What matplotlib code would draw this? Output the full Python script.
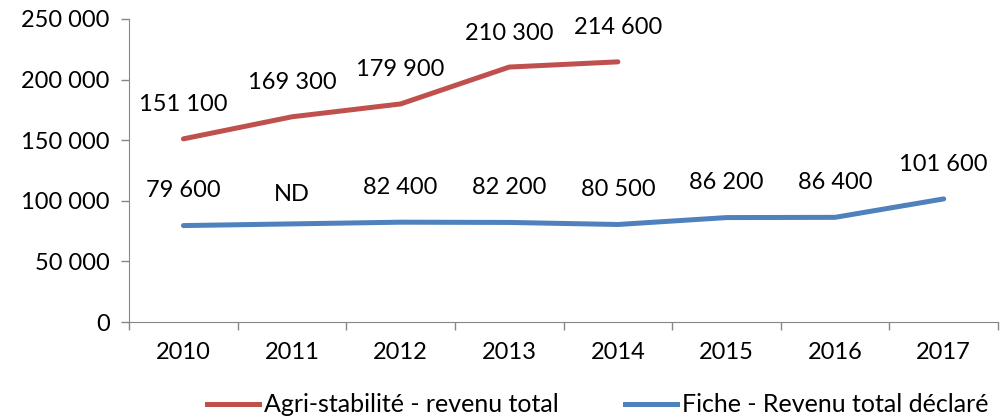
import matplotlib.pyplot as plt
import numpy as np
from matplotlib.lines import Line2D

years = ['2010', '2011', '2012', '2013', '2014', '2015', '2016', '2017']
agri = [151100, 169300, 179900, 210300, 214600]
fiche = [79600, np.nan, 82400, 82200, 80500, 86200, 86400, 101600]
fiche_labels = ['79 600', 'ND', '82 400', '82 200', '80 500', '86 200', '86 400', '101 600']
yticks = [0, 50000, 100000, 150000, 200000, 250000]

plt.rcParams['font.family'] = ['Lato', 'DejaVu Sans']
red = '#C0504D'
blue = '#4F81BD'
grey = '#868686'
fs = 17

fig = plt.figure(figsize=(10.01, 4.2), dpi=100)
ax = fig.add_axes([0.129, 0.233, 0.868, 0.722])

x = np.arange(len(years))
xa = x[:len(agri)]
ax.plot(xa, agri, color=red, lw=3.6, solid_capstyle='round')

# ND year: line still drawn through, so connect the known points
fv = np.array(fiche, dtype=float)
ok = ~np.isnan(fv)
ax.plot(x[ok], fv[ok], color=blue, lw=3.6, solid_capstyle='round')
fill = np.interp(x, x[ok], fv[ok])

def fmt(v):
    return f'{int(v):,}'.replace(',', ' ')

for xi, v in zip(xa, agri):
    ax.annotate(fmt(v), (xi, v), xytext=(0, 24.5), textcoords='offset points',
                ha='center', va='center', fontsize=fs)
for xi, v, lab in zip(x, fill, fiche_labels):
    off = 21.5 if lab == 'ND' else 25
    ax.annotate(lab, (xi, v), xytext=(0, off), textcoords='offset points',
                ha='center', va='center', fontsize=fs)

ax.set_xlim(-0.5, len(years) - 0.5)
ax.set_ylim(0, 250000)
ax.set_yticks(yticks)
ax.set_yticklabels([fmt(t) for t in yticks], fontsize=fs)
ax.set_xticks(np.arange(-0.5, len(years), 1.0))
ax.set_xticklabels([])
ax.set_xticks(x, minor=True)
ax.set_xticklabels(years, minor=True, fontsize=fs)
ax.tick_params(axis='x', which='minor', length=0, pad=14)
ax.tick_params(axis='x', which='major', length=6, color=grey, width=1)
ax.tick_params(axis='y', length=6, color=grey, width=1, pad=8)

for s in ['top', 'right']:
    ax.spines[s].set_visible(False)
for s in ['left', 'bottom']:
    ax.spines[s].set_color(grey)

handles = [Line2D([], [], color=red, lw=3.6), Line2D([], [], color=blue, lw=3.6)]
fig.legend(handles, ['Agri-stabilité - revenu total', 'Fiche - Revenu total déclaré'],
           loc='lower center', bbox_to_anchor=(0.597, -0.045), ncol=2, frameon=False,
           fontsize=18, handlelength=2.08, handletextpad=0.2, columnspacing=2.64)

fig.savefig('out.png', dpi=100)
